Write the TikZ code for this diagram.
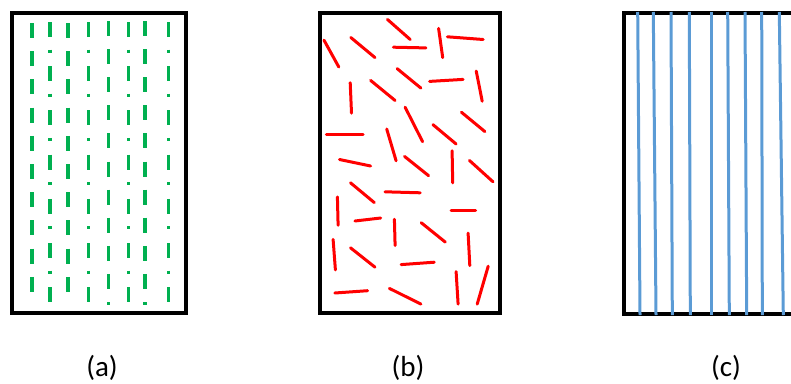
\documentclass[tikz,border=0pt]{standalone}
\usepackage{fontspec}
\setmainfont{Carlito}
\definecolor{dgreen}{HTML}{00B050}
\definecolor{rred}{HTML}{FF0000}
\definecolor{bblue}{HTML}{5B9BD5}
\begin{document}
\begin{tikzpicture}[x=1pt,y=-1pt,
  panelbox/.style={draw=black,line width=3.5pt},
  gdash/.style={draw=dgreen,line width=3.2pt},
  rdash/.style={draw=rred,line width=3pt,line cap=round},
  bline/.style={draw=bblue,line width=3pt},
  lbl/.style={font=\fontsize{29}{34}\selectfont,anchor=base,inner sep=0pt}]
\useasboundingbox (0,0) rectangle (791,383);
% panel (a)
\draw[panelbox] (12,13) rectangle (186,313);
\foreach \x in {32,68}
  \foreach \k in {0,...,9}
    \draw[gdash] (\x,{23+28.2*\k}) -- ++(0,15);
\foreach \x in {108.6,144.9}{
  \foreach \k in {0,...,9}
    \draw[gdash] (\x,{21+28.1*\k}) -- ++(0,15);
  \draw[gdash] (\x,302) -- ++(0,3);
}
\foreach \x in {50,88.5,128.8,168.7}{
  \foreach \k in {0,...,6}
    \draw[gdash] (\x,{22+44.2*\k}) -- ++(0,15);
  \foreach \k in {0,...,5}
    \draw[gdash] (\x,{49.5+44.2*\k}) -- ++(0,3);
}
% panel (b)
\draw[panelbox] (320,13) rectangle (500,313);
\foreach \a/\b/\c/\d in {
  324.0/40.2/338.8/67.0, 350.8/37.5/375.0/57.6, 387.4/19.4/410.2/39.5,
  393.4/47.2/425.9/47.9, 438.6/28.4/442.7/57.6, 447.4/36.8/483.2/39.5,
  350.2/82.7/351.5/113.2, 370.6/80.4/395.1/100.5, 397.1/68.6/420.9/88.1,
  429.6/81.4/463.1/79.4, 476.2/71.0/482.2/101.2, 405.1/107.2/422.6/141.7,
  461.4/112.2/484.9/131.6, 326.4/134.7/363.2/134.7, 386.7/129.0/396.1/160.8,
  432.9/124.6/456.1/144.0, 452.1/150.8/452.7/182.8, 339.5/159.5/370.6/166.0,
  404.5/156.4/428.6/175.7, 469.5/160.5/493.0/181.8, 350.5/182.8/374.3/202.6,
  385.0/191.8/420.2/192.8, 451.0/210.3/475.5/210.3, 337.4/196.9/338.1/225.3,
  354.9/221.0/380.7/218.0, 394.4/219.3/395.1/245.5, 421.2/222.7/445.3/242.1,
  333.1/239.4/335.4/269.9, 350.5/247.8/375.0/267.2, 401.1/264.6/434.3/262.2,
  468.1/233.1/469.8/265.6, 334.8/293.0/367.6/290.7, 389.4/288.4/420.9/304.1,
  456.1/271.6/458.1/304.1, 488.2/266.2/477.2/304.1}
  \draw[rdash] (\a,\b) -- (\c,\d);
% panel (c)
\draw[panelbox] (624,13) rectangle (804,314);
\foreach \a/\b in {637.7/640, 653.3/656, 671/672.3, 689.3/690.3, 711.7/711.7,
  727.7/729.3, 745/746.7, 761.7/762.3, 779.3/783.3}
  \draw[bline] (\a,12) -- (\b,315);
% labels
\node[lbl] (la) at (102,376) {(a)};
\node[lbl] (lb) at (408,376) {(b)};
\node[lbl] (lc) at (726,376) {(c)};
\end{tikzpicture}
\end{document}
